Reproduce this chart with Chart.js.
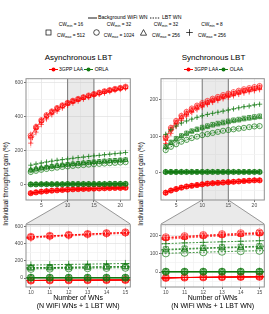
<!DOCTYPE html>
<html>
<head>
<meta charset="utf-8">
<script src="https://cdn.jsdelivr.net/npm/chart.js@4.4.1/dist/chart.umd.min.js"></script>
<style>
  body { margin: 0; width: 269px; height: 314px; position: relative; overflow: hidden; background: #fff;
         font-family: "Liberation Sans", Arial, sans-serif; color: #000; }
  canvas { position: absolute; }
  .abs { position: absolute; white-space: nowrap; }
  .ptitle { font-size: 8px; text-align: center; }
  .plegend { font-size: 5px; text-align: center; line-height: 6px; }
  .plegend svg, .toplg svg { vertical-align: middle; }
  .ytitle { font-size: 6.3px; width: 120px; text-align: center; transform: translate(-50%, -50%) rotate(-90deg); }
  .toplg { font-size: 5.2px; }
  .cw { font-size: 4.8px; line-height: 5px; }
  .cw sub { font-size: 3.4px; vertical-align: -1px; }
</style>
</head>
<body>
<!-- shared legend -->
<div class="abs toplg" style="left:0;top:14px;width:269px;text-align:center">
  <svg width="9" height="4"><line x1="0" y1="2" x2="9" y2="2" stroke="#000" stroke-width="0.9"/></svg> Background WiFi WN
  &nbsp;<svg width="10" height="4"><line x1="0" y1="2" x2="10" y2="2" stroke="#000" stroke-width="0.9" stroke-dasharray="1.4,1.2"/></svg> LBT WN
</div>
<div id="cwlegend"></div>

<div class="abs ptitle" style="left:26px;top:53px;width:105px">Asynchronous LBT</div>
<div class="abs ptitle" style="left:161px;top:53px;width:105px">Synchronous LBT</div>
<div class="abs plegend" style="left:26px;top:66px;width:105px">
  <svg width="9" height="5"><line x1="0" y1="2.5" x2="9" y2="2.5" stroke="#ff0000" stroke-width="1"/><circle cx="4.5" cy="2.5" r="2" fill="#ff0000"/></svg> 3GPP LAA
  <svg width="9" height="5"><line x1="0" y1="2.5" x2="9" y2="2.5" stroke="#137a13" stroke-width="1"/><circle cx="4.5" cy="2.5" r="2" fill="#137a13"/></svg> ORLA
</div>
<div class="abs plegend" style="left:161px;top:66px;width:105px">
  <svg width="9" height="5"><line x1="0" y1="2.5" x2="9" y2="2.5" stroke="#ff0000" stroke-width="1"/><circle cx="4.5" cy="2.5" r="2" fill="#ff0000"/></svg> 3GPP LAA
  <svg width="9" height="5"><line x1="0" y1="2.5" x2="9" y2="2.5" stroke="#137a13" stroke-width="1"/><circle cx="4.5" cy="2.5" r="2" fill="#137a13"/></svg> OLAA
</div>
<div class="abs ytitle" style="left:5px;top:184px">Individual throughput gain (%)</div>
<div class="abs ytitle" style="left:140px;top:184px">Individual throughput gain (%)</div>

<canvas id="aTop" width="135" height="150" style="left:0;top:74px"></canvas>
<canvas id="aBot" width="135" height="94" style="left:0;top:220px"></canvas>
<canvas id="sTop" width="134" height="150" style="left:135px;top:74px"></canvas>
<canvas id="sBot" width="134" height="94" style="left:135px;top:220px"></canvas>

<script>
// number of WNs (N WiFi + 1 LBT)
const xs = [3, 4, 5, 6, 7, 8, 9, 10, 11, 12, 13, 14, 15, 16, 17, 18, 19, 20, 21];
const zoomRange = [10, 15];

// CW settings (legend) and their marker
const cwMin = [16, 32, 32, 8];
const cwMax = [512, 1024, 256, 256];
const cwShapes = ['rect', 'circle', 'triangle', 'cross'];

// ---- Asynchronous LBT ----
const asyncLaaLbtSq = [280, 335, 375, 405, 428, 448, 465, 480, 492, 503, 514, 523, 532, 541, 549, 556, 562, 568, 575];
const asyncLaaLbtCi = [290, 340, 380, 410, 432, 452, 468, 483, 495, 506, 516, 526, 535, 543, 551, 558, 565, 571, 578];
const asyncLaaLbtTr = [285, 338, 377, 407, 430, 450, 466, 481, 493, 504, 515, 524, 533, 542, 550, 557, 563, 570, 576];
const asyncLaaLbtPl = [245, 310, 355, 388, 413, 433, 452, 468, 481, 493, 504, 514, 523, 532, 540, 548, 555, 561, 567];
const asyncLaaBg    = [-50, -45, -41, -38, -35, -33, -31, -29, -27, -26, -25, -24, -23, -22, -21, -20, -19, -19, -18];
const asyncOrlaLbtSq = [85, 92, 98, 103, 108, 112, 116, 120, 123, 126, 129, 132, 135, 137, 140, 142, 144, 146, 148];
const asyncOrlaLbtCi = [75, 82, 88, 93, 97, 101, 105, 108, 111, 114, 116, 119, 121, 123, 125, 127, 129, 131, 133];
const asyncOrlaLbtTr = [88, 95, 100, 105, 109, 113, 117, 120, 123, 126, 129, 131, 133, 136, 138, 140, 142, 144, 146];
const asyncOrlaLbtPl = [115, 122, 128, 134, 139, 144, 148, 152, 156, 160, 163, 167, 170, 173, 177, 180, 183, 186, 190];
const asyncOrlaBg    = [2, 2, 3, 3, 3, 3, 3, 4, 4, 4, 4, 4, 4, 4, 4, 5, 5, 5, 5];
const asyncLaaErr  = [28, 24, 21, 19, 18, 17, 16, 16, 15, 15, 15, 14, 14, 14, 14, 13, 13, 13, 13];
const asyncOrlaErr = [16, 14, 13, 12, 12, 11, 11, 11, 10, 10, 10, 10, 10, 10, 10, 10, 10, 10, 10];
const asyncBgErr   = [9, 8, 8, 7, 7, 7, 6, 6, 6, 6, 6, 6, 5, 5, 5, 5, 5, 5, 5];

// ---- Synchronous LBT ----
const syncLaaLbtSq = [95, 120, 139, 153, 164, 173, 181, 188, 194, 200, 205, 210, 214, 218, 222, 226, 229, 232, 235];
const syncLaaLbtCi = [98, 123, 142, 156, 167, 176, 184, 191, 197, 203, 208, 213, 217, 221, 225, 229, 232, 235, 238];
const syncLaaLbtTr = [92, 118, 137, 151, 162, 171, 179, 186, 192, 198, 203, 208, 212, 216, 220, 224, 227, 230, 233];
const syncLaaLbtPl = [80, 108, 128, 143, 155, 165, 173, 180, 187, 193, 198, 203, 207, 211, 215, 219, 222, 225, 228];
const syncLaaBg    = [-55, -49, -45, -41, -38, -36, -34, -32, -30, -29, -28, -27, -26, -25, -24, -23, -22, -21, -21];
const syncOlaaLbtSq = [72, 84, 94, 102, 109, 115, 120, 125, 129, 133, 136, 139, 142, 145, 147, 150, 152, 154, 156];
const syncOlaaLbtCi = [62, 71, 78, 85, 90, 95, 99, 103, 106, 109, 112, 115, 117, 119, 121, 123, 125, 127, 128];
const syncOlaaLbtTr = [70, 81, 91, 99, 106, 112, 117, 121, 125, 129, 132, 135, 138, 141, 143, 146, 148, 150, 152];
const syncOlaaLbtPl = [105, 118, 128, 136, 142, 147, 152, 156, 160, 163, 166, 169, 172, 175, 178, 181, 183, 186, 188];
const syncOlaaBg    = [2, 2, 2, 2, 2, 2, 2, 2, 2, 2, 2, 2, 2, 2, 2, 2, 2, 2, 2];
const syncLaaErr  = [12, 11, 10, 10, 9, 9, 9, 9, 8, 8, 8, 8, 8, 8, 8, 8, 8, 8, 8];
const syncOlaaErr = [9, 8, 8, 7, 7, 7, 7, 7, 7, 6, 6, 6, 6, 6, 6, 6, 6, 6, 6];
const syncBgErr   = [8, 7, 7, 6, 6, 6, 6, 5, 5, 5, 5, 5, 5, 5, 5, 5, 5, 5, 5];

const RED = '#ff0000', GREEN = '#137a13';
const FONT = '"Liberation Sans", Arial, sans-serif';

// CW legend row
(function () {
  const symX = [48, 96, 143, 189];
  const el = document.getElementById('cwlegend');
  const svgFor = s => {
    if (s === 'rect') return '<rect x="1" y="1" width="5" height="5" fill="none" stroke="#000" stroke-width="0.7"/>';
    if (s === 'circle') return '<circle cx="3.5" cy="3.5" r="2.8" fill="none" stroke="#000" stroke-width="0.7"/>';
    if (s === 'triangle') return '<polygon points="3.5,0.6 6.6,6.2 0.4,6.2" fill="none" stroke="#000" stroke-width="0.7"/>';
    return '<path d="M3.5 0.2V6.8M0.2 3.5H6.8" stroke="#000" stroke-width="0.7"/>';
  };
  cwShapes.forEach((s, i) => {
    el.insertAdjacentHTML('beforeend',
      `<svg class="abs" style="left:${symX[i] - 3.5}px;top:29px" width="7" height="7">${svgFor(s)}</svg>` +
      `<div class="abs cw" style="left:${symX[i] + 7}px;top:22px;width:32px;text-align:center">CW<sub>min</sub> = ${cwMin[i]}</div>` +
      `<div class="abs cw" style="left:${symX[i] + 7}px;top:33px;width:32px;text-align:center">CW<sub>max</sub> = ${cwMax[i]}</div>`);
  });
})();

// shading of zoomed range, funnel to zoom panel, error bars, panel border
const decor = {
  id: 'decor',
  beforeDraw(chart, _a, o) {
    if (!o.band) return;
    const { ctx, chartArea: a, scales: { x } } = chart;
    const x0 = x.getPixelForValue(o.band[0]), x1 = x.getPixelForValue(o.band[1]);
    ctx.save();
    ctx.beginPath();
    ctx.moveTo(x0, a.bottom); ctx.lineTo(x1, a.bottom);
    ctx.lineTo(a.right, chart.height); ctx.lineTo(a.left, chart.height);
    ctx.closePath();
    ctx.fillStyle = 'rgba(170,170,170,0.25)';
    ctx.fill();
    ctx.strokeStyle = '#8c8c8c'; ctx.lineWidth = 0.9;
    ctx.beginPath();
    ctx.moveTo(x0, a.bottom); ctx.lineTo(a.left, chart.height);
    ctx.moveTo(x1, a.bottom); ctx.lineTo(a.right, chart.height);
    ctx.stroke();
    ctx.restore();
  },
  beforeDatasetsDraw(chart, _a, o) {
    const { ctx, chartArea: a, scales: { x, y } } = chart;
    ctx.save();
    ctx.beginPath(); ctx.rect(a.left, a.top, a.width, a.height); ctx.clip();
    if (o.band) {
      const x0 = x.getPixelForValue(o.band[0]), x1 = x.getPixelForValue(o.band[1]);
      ctx.fillStyle = 'rgba(170,170,170,0.25)';
      ctx.fillRect(x0, a.top, x1 - x0, a.height);
      ctx.strokeStyle = '#7a7a7a'; ctx.lineWidth = 1;
      ctx.beginPath();
      ctx.moveTo(x0, a.top); ctx.lineTo(x0, a.bottom);
      ctx.moveTo(x1, a.top); ctx.lineTo(x1, a.bottom);
      ctx.stroke();
    }
    chart.data.datasets.forEach(ds => {
      if (!ds.err) return;
      ctx.strokeStyle = ds.errColor; ctx.lineWidth = 1;
      ctx.beginPath();
      ds.data.forEach((p, i) => {
        const px = x.getPixelForValue(p.x);
        ctx.moveTo(px, y.getPixelForValue(p.y - ds.err[i]));
        ctx.lineTo(px, y.getPixelForValue(p.y + ds.err[i]));
      });
      ctx.stroke();
    });
    ctx.restore();
  },
  afterDraw(chart) {
    const { ctx, chartArea: a } = chart;
    ctx.save();
    ctx.strokeStyle = '#8f8f8f'; ctx.lineWidth = 1;
    ctx.strokeRect(a.left, a.top, a.width, a.height);
    ctx.restore();
  }
};

function datasets(p, radius, dash) {
  const out = [];
  const add = (vals, color, errColor, shape, dashed, err) => out.push({
    data: xs.map((x, i) => ({ x, y: vals[i] })),
    borderColor: color, backgroundColor: 'rgba(0,0,0,0)',
    borderWidth: dashed ? 0.8 : 1, borderDash: dashed ? dash : [],
    pointStyle: shape, pointRadius: radius, pointBorderWidth: 0.7,
    pointBorderColor: color, pointBackgroundColor: 'rgba(0,0,0,0)',
    err, errColor, tension: 0
  });
  // green first so that it is painted on top
  cwShapes.forEach(s => add(p.otherBg, GREEN, 'rgba(19,122,19,0.25)', s, false, p.bgErr));
  p.otherLbt.forEach((v, i) => add(v, GREEN, 'rgba(19,122,19,0.22)', cwShapes[i], true, p.otherErr));
  cwShapes.forEach(s => add(p.laaBg, RED, 'rgba(255,0,0,0.2)', s, false, p.bgErr));
  p.laaLbt.forEach((v, i) => add(v, 'rgba(255,0,0,0.85)', 'rgba(255,0,0,0.2)', cwShapes[i], true, p.laaErr));
  return out;
}

function axis(min, max, step, major, size, fit, extra) {
  return Object.assign({
    type: 'linear', min, max,
    afterFit(s) { s[fit] = size; },
    border: { display: false },
    ticks: {
      stepSize: step, includeBounds: false, autoSkip: false, maxRotation: 0, minRotation: 0,
      maxTicksLimit: 30, padding: 1, color: '#4d4d4d', font: { size: 5, family: FONT },
      callback: v => (Math.abs(v % major) < 1e-6 ? v : '')
    },
    grid: {
      lineWidth: 0.8, tickLength: 2,
      color: c => (c.tick && Math.abs(c.tick.value % major) < 1e-6 ? '#e4e4e4' : '#f3f3f3'),
      tickColor: c => (c.tick && Math.abs(c.tick.value % major) < 1e-6 ? '#4d4d4d' : 'rgba(0,0,0,0)')
    }
  }, extra || {});
}

function makeChart(id, p, zoom, rightPad) {
  const x = zoom
    ? axis(9.74, 15.26, 0.5, 1, 27, 'height', {
        title: { display: true, text: ['Number of WNs', '(N WiFi WNs + 1 LBT WN)'],
                 font: { size: 7, family: FONT }, color: '#000', padding: { top: 0, bottom: 3.8 } } })
    : axis(2.1, 21.9, 2.5, 5, 24, 'height');
  const yr = zoom ? p.yBot : p.yTop;
  return new Chart(document.getElementById(id), {
    type: 'line',
    data: { datasets: datasets(p, zoom ? 3.6 : 2.6, zoom ? [2, 1.5] : [1.6, 1.4]) },
    options: {
      responsive: false, animation: false, devicePixelRatio: 1,
      layout: { padding: { top: 4, right: rightPad, left: 0, bottom: 0 } },
      plugins: { legend: { display: false }, tooltip: { enabled: false }, decor: { band: zoom ? null : zoomRange } },
      scales: { x, y: axis(yr[0], yr[1], yr[2], yr[3], 26, 'width') }
    },
    plugins: [decor]
  });
}

const asyncPanel = {
  laaLbt: [asyncLaaLbtSq, asyncLaaLbtCi, asyncLaaLbtTr, asyncLaaLbtPl], laaBg: asyncLaaBg,
  otherLbt: [asyncOrlaLbtSq, asyncOrlaLbtCi, asyncOrlaLbtTr, asyncOrlaLbtPl], otherBg: asyncOrlaBg,
  laaErr: asyncLaaErr, otherErr: asyncOrlaErr, bgErr: asyncBgErr,
  yTop: [-90, 625, 100, 200], yBot: [-105, 625, 100, 200]
};
const syncPanel = {
  laaLbt: [syncLaaLbtSq, syncLaaLbtCi, syncLaaLbtTr, syncLaaLbtPl], laaBg: syncLaaBg,
  otherLbt: [syncOlaaLbtSq, syncOlaaLbtCi, syncOlaaLbtTr, syncOlaaLbtPl], otherBg: syncOlaaBg,
  laaErr: syncLaaErr, otherErr: syncOlaaErr, bgErr: syncBgErr,
  yTop: [-75, 258, 50, 100], yBot: [-82, 260, 50, 100]
};

makeChart('aTop', asyncPanel, false, 4);
makeChart('aBot', asyncPanel, true, 4);
makeChart('sTop', syncPanel, false, 3);
makeChart('sBot', syncPanel, true, 3);
</script>
</body>
</html>
